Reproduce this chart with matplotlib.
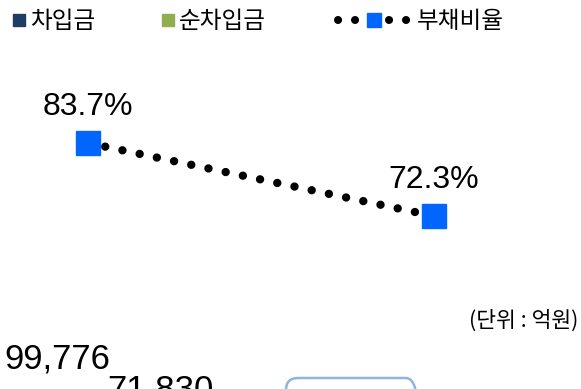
import matplotlib

matplotlib.use("Agg")

import matplotlib.pyplot as plt
from matplotlib.lines import Line2D
from matplotlib.patches import FancyBboxPatch

# data (only the visible part)
years = [0, 1]
debt_ratio = [83.7, 72.3]
debt_ratio_labels = ["83.7%", "72.3%"]
borrowings = [99776]
net_borrowings = [71830]
series_names = ["차입금", "순차입금", "부채비율"]
unit_text = "(단위 : 억원)"

KR = ["Noto Sans CJK KR", "DejaVu Sans"]
NUM = ["Liberation Sans", "DejaVu Sans"]
NAVY = "#1f3c66"
GREEN = "#8fae4f"
BLUE = "#0066ff"

fig = plt.figure(figsize=(5.81, 3.89), dpi=100)
ax = fig.add_axes([0, 0, 1, 1])
ax.set_xlim(-0.2543, 1.4249)
ax.set_ylim(45.29, 106.03)
ax.axis("off")

# amounts on a second scale (bars sit below the visible area)
ax2 = ax.twinx()
ax2.set_ylim(101579, 452329)
ax2.axis("off")
ax2.set_xlim(ax.get_xlim())

bar_x = [x - 0.088 for x in years[: len(borrowings)]]
net_x = [x + 0.208 for x in years[: len(net_borrowings)]]
ax2.bar(bar_x, borrowings, width=0.25, color=NAVY)
ax2.bar(net_x, net_borrowings, width=0.25, color=GREEN)
for x, v in zip(bar_x, borrowings):
    ax2.annotate(f"{v:,}", (x, v), xytext=(0, 11), textcoords="offset points",
                 ha="center", va="bottom", fontsize=25, family=NUM, annotation_clip=False)
for x, v in zip(net_x, net_borrowings):
    ax2.annotate(f"{v:,}", (x, v), xytext=(0, 11), textcoords="offset points",
                 ha="center", va="bottom", fontsize=25, family=NUM, annotation_clip=False)

# debt ratio line
ax.plot(years, debt_ratio, color="black", linewidth=6,
        linestyle=(0, (0.01, 2.1)), dash_capstyle="round", zorder=3)
ax.plot(years, debt_ratio, linestyle="none", marker="s", markersize=17,
        color=BLUE, zorder=4)
for x, v, lab in zip(years, debt_ratio, debt_ratio_labels):
    ax.annotate(lab, (x, v), xytext=(0, 15), textcoords="offset points",
                ha="center", va="bottom", fontsize=23, family=NUM)

fig.text(0.995, 0.175, unit_text, ha="right", va="center", fontsize=15.5, family=KR)

# rounded box at the bottom
box = FancyBboxPatch((2.86, -0.40), 1.32, 0.51,
                     boxstyle="round,pad=0,rounding_size=0.12",
                     transform=fig.dpi_scale_trans, facecolor="none",
                     edgecolor="#8db4e2", linewidth=1.8)
fig.add_artist(box)

# legend, one block per entry
h1 = Line2D([], [], linestyle="none", marker="s", markersize=8.6, color=NAVY)
h2 = Line2D([], [], linestyle="none", marker="s", markersize=8.6, color=GREEN)
h3 = Line2D([], [], color="black", linewidth=5.8, linestyle=(0, (0.01, 2.1)),
            dash_capstyle="round", marker="s", markersize=9.4,
            markerfacecolor=BLUE, markeredgecolor=BLUE)
leg_kw = dict(frameon=False, borderaxespad=0, borderpad=0, loc="center left")
fig.legend([h1], [series_names[0]], handlelength=0.6, handletextpad=0.15,
           prop={"family": KR, "size": 17}, bbox_to_anchor=(0.021, 0.945), **leg_kw)
fig.legend([h2], [series_names[1]], handlelength=0.6, handletextpad=0.15,
           prop={"family": KR, "size": 17}, bbox_to_anchor=(0.277, 0.945), **leg_kw)
fig.legend([h3], [series_names[2]], handlelength=3.05, handletextpad=0.3, numpoints=1,
           prop={"family": KR, "size": 17}, bbox_to_anchor=(0.582, 0.945), **leg_kw)

fig.savefig("out.png", dpi=100)
